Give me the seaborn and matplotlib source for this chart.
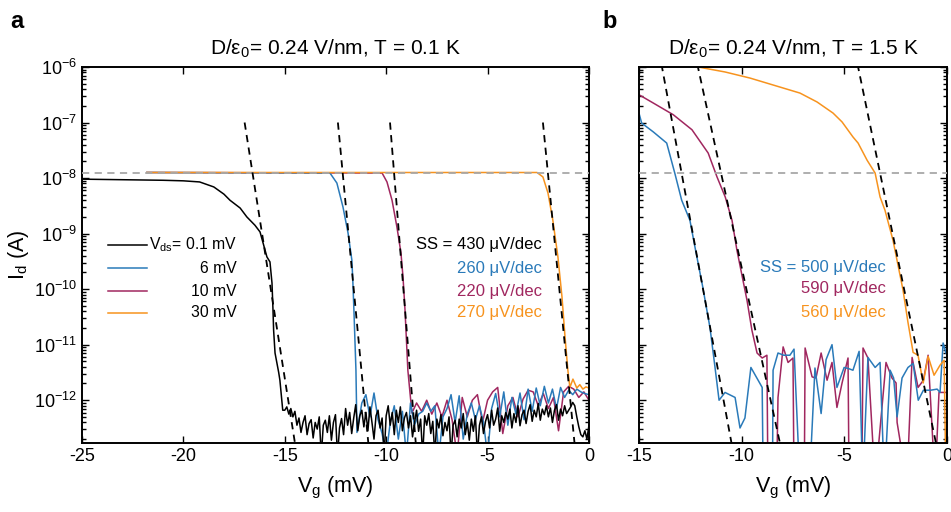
import numpy as np
import pandas as pd
import matplotlib
matplotlib.use("Agg")
import matplotlib.pyplot as plt
from matplotlib.lines import Line2D
from matplotlib.ticker import FixedLocator, NullFormatter, FuncFormatter
import seaborn as sns

# ------------------------------------------------------------------ data
# log10(I_d / A), V_g in mV
labels = ["0.1 mV", "6 mV", "10 mV", "30 mV"]
colors = {"0.1 mV": "#000000", "6 mV": "#2A7AB9", "10 mV": "#A0275F", "30 mV": "#F7931E"}
threshold_log10I = -7.91

# ---- panel a, T = 0.1 K
a_blk_turn_x = [-25.0, -23.0, -21.0, -20.0, -19.2, -18.5, -18.0, -17.7, -17.2, -16.87, -16.47,
                -16.22, -16.07, -15.88, -15.73, -15.63, -15.58, -15.55, -15.48, -15.3, -15.24, -15.1]
a_blk_turn_log = [-8.02, -8.03, -8.04, -8.05, -8.07, -8.16, -8.29, -8.40, -8.54, -8.70, -8.85,
                  -8.97, -9.17, -9.42, -9.51, -9.89, -10.38, -10.74, -11.15, -11.50, -11.64, -12.18]
a_blk_noise_range = (-15.0, 0.0, 151)
a_blk_noise_log = [
    -12.18, -12.12, -12.25, -12.15, -12.30, -12.20, -12.45, -12.32, -12.58, -12.40,
    -12.28, -12.62, -12.42, -12.35, -12.68, -12.40, -12.52, -12.30, -13.00, -12.45,
    -12.36, -12.58, -12.28, -12.72, -12.40, -12.26, -13.00, -12.50, -12.33, -12.62,
    -12.15, -12.45, -12.22, -12.60, -12.32, -12.08, -12.55, -12.28, -12.18, -12.48,
    -12.22, -12.55, -12.12, -12.40, -12.70, -12.28, -12.18, -12.50, -12.32, -13.00,
    -12.28, -12.10, -12.45, -12.22, -12.62, -12.18, -12.40, -12.12, -12.55, -12.32,
    -12.22, -12.50, -12.28, -12.66, -12.40, -12.18, -12.56, -12.34, -13.00, -12.28,
    -12.45, -12.24, -12.60, -12.38, -13.00, -12.34, -12.50, -12.26, -12.64, -12.40,
    -12.55, -12.30, -13.00, -12.45, -12.36, -12.66, -12.34, -12.50, -12.24, -12.62,
    -12.40, -12.72, -12.34, -12.56, -12.28, -13.00, -12.45, -12.30, -12.60, -12.38,
    -12.26, -12.50, -12.18, -12.45, -12.34, -12.14, -12.56, -12.28, -12.40, -12.22,
    -12.34, -12.16, -12.50, -12.24, -12.40, -12.10, -12.46, -12.26, -12.18, -12.42,
    -12.20, -12.08, -12.38, -12.18, -12.30, -12.06, -12.36, -12.16, -12.26, -12.10,
    -12.30, -12.14, -12.40, -12.18, -12.08, -12.36, -12.16, -12.28, -12.10, -12.24,
    -12.18, -12.12, -12.04, -12.10, -12.30, -12.48, -12.62, -12.66, -12.55, -12.70,
    -12.45]

a_blu_turn_x = [-21.8, -12.77, -12.43, -12.13, -11.88, -11.69, -11.64, -11.59, -11.49, -11.44]
a_blu_turn_log = [-7.90, -7.91, -8.09, -8.52, -8.99, -9.48, -9.89, -10.38, -11.46, -12.58]
a_blu_noise_range = (-11.2, 0.0, 57)
a_blu_noise_log = [
    -12.05, -11.90, -12.30, -11.87, -12.35, -12.60, -13.00, -12.40, -12.10, -12.70,
    -12.20, -13.00, -12.05, -12.45, -12.25, -12.20, -12.05, -12.20, -12.10, -13.00,
    -12.30, -12.15, -11.90, -12.40, -11.92, -12.70, -12.25, -12.05, -12.35, -12.10,
    -12.40, -13.00, -12.15, -11.88, -12.30, -11.85, -12.45, -11.95, -12.25, -11.87,
    -12.35, -11.80, -12.20, -11.78, -12.10, -11.75, -12.05, -11.80, -12.15, -11.77,
    -11.95, -11.82, -11.90, -11.80, -11.85, -11.88, -11.90]

a_pur_turn_x = [-21.8, -10.2, -9.96, -9.71, -9.47, -9.27, -9.17, -9.07, -8.93, -8.73]
a_pur_turn_log = [-7.90, -7.91, -8.07, -8.40, -8.88, -9.35, -9.78, -10.38, -11.46, -12.23]
a_pur_noise_range = (-8.5, 0.0, 35)
a_pur_noise_log = [
    -12.05, -12.20, -12.00, -12.25, -12.05, -12.30, -12.00, -12.35, -13.00, -11.95,
    -12.30, -12.00, -11.90, -12.40, -12.00, -11.85, -11.77, -12.60, -12.10, -11.95,
    -12.30, -11.98, -11.82, -11.85, -12.10, -11.88, -12.15, -11.95, -12.55, -11.85,
    -11.75, -11.80, -11.95, -11.85, -12.00]

a_ora_x = [-21.8, -2.56, -2.27, -2.02, -1.78, -1.53, -1.33, -1.18, -1.04, -0.94,
           -0.79, -0.60, -0.45, -0.30, -0.15, 0.0]
a_ora_log = [-7.90, -7.90, -7.98, -8.27, -8.76, -9.42, -10.14, -10.86, -11.46, -11.77,
             -11.62, -11.78, -11.72, -11.80, -11.76, -11.78]

# subthreshold swing fits: V_g where fit reaches 1e-7 A, and SS (uV/dec)
a_fit_x7 = {"0.1 mV": -16.98, "6 mV": -12.38, "10 mV": -9.81, "30 mV": -2.27}
a_ss = {"0.1 mV": 430, "6 mV": 260, "10 mV": 220, "30 mV": 270}

# ---- panel b, T = 1.5 K
b_blu_x = [-15.0, -14.87, -14.3, -13.65, -13.25, -12.92, -12.52, -12.27, -11.9, -11.54,
           -11.3, -11.1, -10.81, -10.32, -10.08, -9.84, -9.55, -9.0, -8.95, -8.5,
           -8.47, -8.23, -7.95, -7.65, -7.45, -7.16, -6.7, -6.43, -6.13, -5.89,
           -5.6, -5.36, -5.01, -4.8, -4.58, -4.28, -4.1, -3.85, -3.5, -3.26,
           -3.05, -2.77, -2.6, -2.43, -2.19, -1.9, -1.65, -1.4, -1.15, -0.8,
           -0.48, -0.34, -0.19, -0.05]
b_blu_log = [-6.83, -7.01, -7.17, -7.37, -7.92, -8.40, -8.76, -9.25, -9.95, -10.70,
             -11.40, -12.00, -11.86, -11.95, -12.50, -12.32, -11.41, -11.77, -13.50, -13.50,
             -11.46, -11.15, -11.19, -11.19, -11.08, -13.50, -13.50, -11.42, -12.24, -11.27,
             -11.00, -11.77, -11.41, -11.43, -11.46, -11.12, -13.50, -11.23, -11.41, -11.32,
             -13.50, -11.46, -11.60, -12.30, -11.60, -11.41, -11.34, -12.00, -11.82, -11.82,
             -11.80, -11.86, -10.97, -11.15]

b_pur_x = [-15.0, -14.3, -13.33, -12.42, -11.63, -11.2, -10.8, -10.47, -10.23, -9.74,
           -9.5, -9.25, -9.0, -8.77, -8.72, -8.3, -8.23, -7.98, -7.74, -7.5,
           -7.45, -6.95, -6.91, -6.57, -6.38, -6.13, -5.84, -5.6, -5.36, -5.11,
           -4.82, -4.77, -4.15, -4.09, -3.85, -3.5, -2.97, -2.68, -2.48, -2.43,
           -1.95, -1.7, -1.41, -1.15, -0.92, -0.58, -0.39, -0.19, 0.0]
b_pur_log = [-6.50, -6.65, -6.86, -7.13, -7.55, -7.98, -8.34, -8.76, -9.30, -10.20,
             -10.74, -11.15, -11.24, -11.19, -13.50, -13.50, -11.95, -11.04, -11.32, -11.24,
             -13.50, -13.50, -11.06, -11.58, -11.60, -11.15, -11.64, -11.32, -12.13, -11.69,
             -11.24, -13.50, -13.50, -11.06, -11.24, -13.50, -11.32, -11.60, -11.69, -12.40,
             -13.50, -11.23, -11.77, -11.64, -11.19, -13.50, -11.86, -11.86, -11.86]

b_ora_x = [-13.0, -12.13, -10.81, -9.59, -7.16, -6.33, -5.55, -5.11, -4.58, -4.33,
           -3.89, -3.5, -3.26, -3.02, -2.63, -2.14, -1.9, -1.65, -1.41, -1.16,
           -0.92, -0.63, -0.34, -0.14, -0.05]
b_ora_log = [-5.80, -6.00, -6.09, -6.20, -6.47, -6.63, -6.83, -6.99, -7.26, -7.37,
             -7.68, -7.91, -8.34, -8.58, -9.12, -10.02, -10.60, -11.14, -11.19, -11.69,
             -11.21, -11.55, -11.37, -11.28, -13.50]

b_fit_x7 = {"6 mV": -13.38, "10 mV": -11.54, "30 mV": -3.77}
b_ss = {"6 mV": 500, "10 mV": 590, "30 mV": 560}

xticks_a = [-25, -20, -15, -10, -5, 0]
xticks_b = [-15, -10, -5, 0]
ytick_exponents = [-12, -11, -10, -9, -8, -7, -6]
ylog_min, ylog_max = -12.77, -6.0

# ------------------------------------------------------------------ frames
def frame(series, xs, logs, panel):
    return pd.DataFrame({"Vg": np.asarray(xs, float),
                         "Id": 10.0 ** np.asarray(logs, float),
                         "Vds": series, "panel": panel})

df_a = pd.concat([
    frame("10 mV", a_pur_turn_x + list(np.linspace(*a_pur_noise_range)), a_pur_turn_log + a_pur_noise_log, "a"),
    frame("6 mV", a_blu_turn_x + list(np.linspace(*a_blu_noise_range)), a_blu_turn_log + a_blu_noise_log, "a"),
    frame("0.1 mV", a_blk_turn_x + list(np.linspace(*a_blk_noise_range)), a_blk_turn_log + a_blk_noise_log, "a"),
    frame("30 mV", a_ora_x, a_ora_log, "a"),
], ignore_index=True)

df_b = pd.concat([
    frame("10 mV", b_pur_x, b_pur_log, "b"),
    frame("6 mV", b_blu_x, b_blu_log, "b"),
    frame("30 mV", b_ora_x, b_ora_log, "b"),
], ignore_index=True)

# ------------------------------------------------------------------ style
plt.rcParams.update({
    "font.family": ["Liberation Sans", "DejaVu Sans"],
    "mathtext.fontset": "custom",
    "mathtext.rm": "Liberation Sans",
    "mathtext.it": "Liberation Sans:italic",
    "mathtext.bf": "Liberation Sans:bold",
    "axes.unicode_minus": False,
    "font.size": 13,
})

fig = plt.figure(figsize=(9.51, 5.12), dpi=100)
ax_a = fig.add_axes([0.0862, 0.1348, 0.5331, 0.7344])
ax_b = fig.add_axes([0.6719, 0.1348, 0.3239, 0.7344])

for ax, df, order in [(ax_a, df_a, ["10 mV", "6 mV", "0.1 mV", "30 mV"]),
                      (ax_b, df_b, ["10 mV", "6 mV", "30 mV"])]:
    sns.lineplot(data=df, x="Vg", y="Id", hue="Vds", hue_order=order, palette=colors,
                 estimator=None, sort=False, legend=False, linewidth=1.1, ax=ax, zorder=2)

# fit lines
for key, x7 in a_fit_x7.items():
    logs = np.array([-7.0, -13.0])
    xs = x7 + (-7.0 - logs) * a_ss[key] / 1000.0
    ax_a.plot(xs, 10.0 ** logs, color="black", lw=1.3, ls=(0, (4, 3)), zorder=4)
for key, x7 in b_fit_x7.items():
    logs = np.array([-5.5, -13.0])
    xs = x7 + (-7.0 - logs) * b_ss[key] / 1000.0
    ax_b.plot(xs, 10.0 ** logs, color="black", lw=1.3, ls=(0, (4, 3)), zorder=4)

major_y = [10.0 ** e for e in ytick_exponents]
minor_y = [m * 10.0 ** e for e in range(-13, -6) for m in range(2, 10)
           if ylog_min <= np.log10(m * 10.0 ** e) <= ylog_max]

for ax in (ax_a, ax_b):
    ax.axhline(10.0 ** threshold_log10I, color="#A8A8A8", lw=1.3, ls=(0, (4, 3)), zorder=3)
    ax.set_yscale("log")
    ax.set_ylim(10.0 ** ylog_min, 10.0 ** ylog_max)
    ax.yaxis.set_major_locator(FixedLocator(major_y))
    ax.yaxis.set_minor_locator(FixedLocator(minor_y))
    ax.yaxis.set_minor_formatter(NullFormatter())
    ax.tick_params(which="both", direction="in", top=True, right=True, labelsize=13, width=1.0)
    ax.tick_params(which="major", length=5)
    ax.tick_params(which="minor", length=3)
    ax.tick_params(axis="x", which="minor", top=False, bottom=False)
    for s in ax.spines.values():
        s.set_linewidth(1.4)
        s.set_color("black")
    ax.set_xlabel(r"V$_\mathrm{g}$ (mV)", fontsize=15.5, labelpad=7)

ax_a.set_xlim(-25, 0)
ax_b.set_xlim(-15, 0)
ax_a.xaxis.set_major_locator(FixedLocator(xticks_a))
ax_b.xaxis.set_major_locator(FixedLocator(xticks_b))
ax_a.yaxis.set_major_formatter(FuncFormatter(lambda v, p: r"10$^{%d}$" % int(round(np.log10(v)))))
ax_b.yaxis.set_major_formatter(NullFormatter())
ax_a.set_ylabel(r"I$_\mathrm{d}$ (A)", fontsize=15.5, labelpad=2)
ax_b.set_ylabel("")

ax_a.set_title("D/ε$_0$= 0.24 V/nm, T = 0.1 K", fontsize=15, pad=9)
ax_b.set_title("D/ε$_0$= 0.24 V/nm, T = 1.5 K", fontsize=15, pad=9)

fig.text(0.011, 0.958, "a", fontsize=17, fontweight="bold", va="center", ha="left")
fig.text(0.633, 0.958, "b", fontsize=17, fontweight="bold", va="center", ha="left")

# legend (panel a), right-aligned labels
leg_rows = [0.527, 0.465, 0.404, 0.346]
leg_text = [r"V$_\mathrm{ds}$= 0.1 mV", "6 mV", "10 mV", "30 mV"]
for key, fy, txt in zip(labels, leg_rows, leg_text):
    ax_a.add_line(Line2D([0.051, 0.128], [fy, fy], transform=ax_a.transAxes,
                         color=colors[key], lw=1.1))
    ax_a.text(0.306, fy, txt, transform=ax_a.transAxes, ha="right", va="center", fontsize=11.3)

# SS annotations
for i, key in enumerate(labels):
    prefix = "SS = " if i == 0 else ""
    ax_a.text(0.907, leg_rows[i], f"{prefix}{a_ss[key]} μV/dec", transform=ax_a.transAxes,
              ha="right", va="center", fontsize=12, color=colors[key])
b_rows = [0.468, 0.410, 0.348]
for i, key in enumerate(["6 mV", "10 mV", "30 mV"]):
    prefix = "SS = " if i == 0 else ""
    ax_b.text(0.802, b_rows[i], f"{prefix}{b_ss[key]} μV/dec", transform=ax_b.transAxes,
              ha="right", va="center", fontsize=12, color=colors[key])

fig.savefig("out.png", dpi=100)
